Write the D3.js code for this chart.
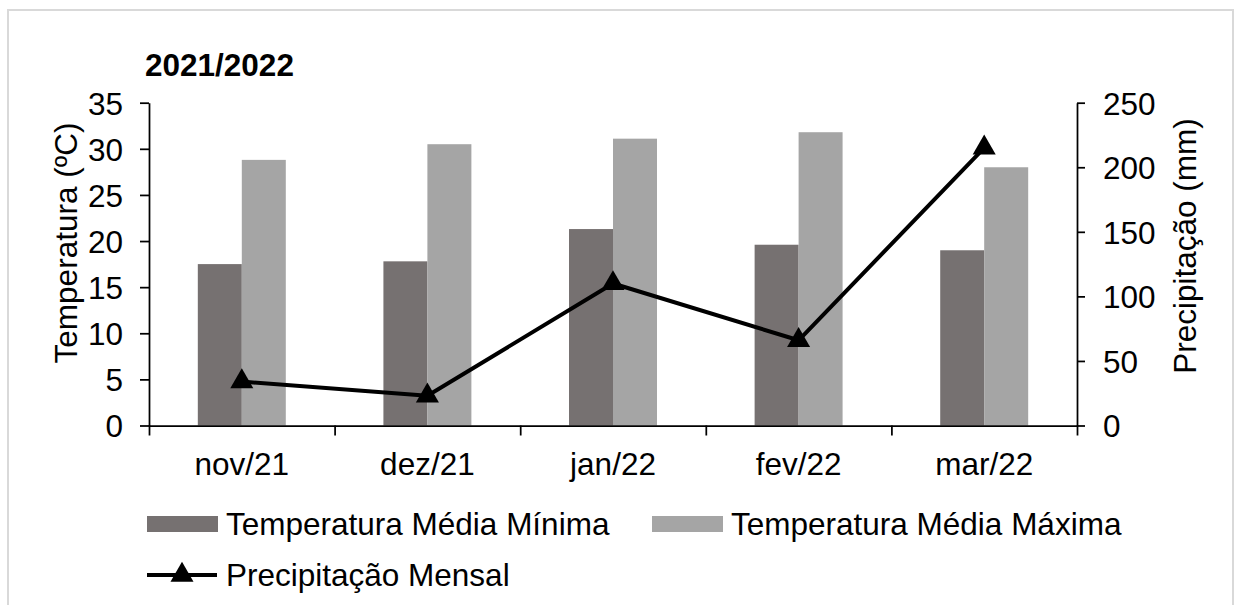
<!DOCTYPE html>
<html>
<head>
<meta charset="utf-8">
<script src="https://cdn.jsdelivr.net/npm/d3@7"></script>
<style>
  html, body { margin: 0; padding: 0; background: #fff; }
  svg { display: block; }
  text { font-family: "Liberation Sans", Arial, sans-serif; fill: #000; }
</style>
</head>
<body>
<svg id="chart" width="1237" height="605"></svg>
<script>
const categories = ["nov/21", "dez/21", "jan/22", "fev/22", "mar/22"];
const tempMin = [17.5, 17.8, 21.3, 19.6, 19.0];
const tempMax = [28.8, 30.5, 31.1, 31.8, 28.0];
const precip = [34, 23, 110, 66, 215];
const tempTicks = [0, 5, 10, 15, 20, 25, 30, 35];
const precipTicks = [0, 50, 100, 150, 200, 250];
const seriesNames = ["Temperatura Média Mínima", "Temperatura Média Máxima", "Precipitação Mensal"];
const colors = { min: "#767171", max: "#a5a5a5", line: "#000000" };

const svg = d3.select("#chart");
const m = { left: 149, right: 1077, top: 102.7, bottom: 425.5 };
const FONT = 31.5;

// outer border
svg.append("rect").attr("x", 8).attr("y", 10).attr("width", 1225).attr("height", 600)
  .attr("fill", "#fff").attr("stroke", "#d9d9d9").attr("stroke-width", 2);

const x = d3.scaleBand().domain(categories).range([m.left, m.right]).paddingInner(0.526).paddingOuter(0.263);
const xs = d3.scaleBand().domain(["min", "max"]).range([0, x.bandwidth()]);
const yL = d3.scaleLinear().domain([0, 35]).range([m.bottom, m.top]);
const yR = d3.scaleLinear().domain([0, 250]).range([m.bottom, m.top]);

// bars
const data = categories.map((c, i) => ({ c, min: tempMin[i], max: tempMax[i], p: precip[i] }));
const g = svg.append("g");
["min", "max"].forEach(k => {
  g.selectAll("rect." + k).data(data).enter().append("rect")
    .attr("class", k)
    .attr("x", d => x(d.c) + xs(k))
    .attr("width", xs.bandwidth())
    .attr("y", d => yL(d[k]))
    .attr("height", d => yL(0) - yL(d[k]))
    .attr("fill", colors[k]);
});

// axes
const axisStyle = sel => {
  sel.selectAll("path.domain").attr("stroke", "#000").attr("stroke-width", 1.75);
  sel.selectAll(".tick line").attr("stroke", "#000").attr("stroke-width", 1.75);
  sel.selectAll("text").style("font-size", FONT + "px").attr("fill", "#000");
};

const axL = svg.append("g").attr("transform", `translate(${m.left},0)`)
  .call(d3.axisLeft(yL).tickValues(tempTicks).tickSize(9).tickSizeOuter(0).tickPadding(17));
axisStyle(axL);
axL.selectAll("text").attr("dy", "0.36em");

const axR = svg.append("g").attr("transform", `translate(${m.right},0)`)
  .call(d3.axisRight(yR).tickValues(precipTicks).tickSize(8).tickSizeOuter(0).tickPadding(18));
axisStyle(axR);
axR.selectAll("text").attr("dy", "0.36em");

// x axis with ticks at category boundaries
const xb = d3.scaleLinear().domain([0, categories.length]).range([m.left, m.right]);
const axB = svg.append("g").attr("transform", `translate(0,${m.bottom})`)
  .call(d3.axisBottom(xb).tickValues(d3.range(categories.length + 1)).tickSize(10).tickSizeOuter(0).tickFormat(""));
axisStyle(axB);
const axB2 = svg.append("g").attr("transform", `translate(0,${m.bottom})`)
  .call(d3.axisBottom(x).tickSize(0).tickPadding(27));
axB2.select("path.domain").remove();
axB2.selectAll("text").style("font-size", FONT + "px").attr("fill", "#000");

// precipitation line
const line = d3.line().x(d => x(d.c) + x.bandwidth() / 2).y(d => yR(d.p));
svg.append("path").datum(data).attr("d", line)
  .attr("fill", "none").attr("stroke", colors.line).attr("stroke-width", 4).attr("stroke-linejoin", "round");
const tri = d3.symbol().type(d3.symbolTriangle).size(230);
svg.selectAll("path.mk").data(data).enter().append("path")
  .attr("class", "mk")
  .attr("d", tri)
  .attr("transform", d => `translate(${x(d.c) + x.bandwidth() / 2},${yR(d.p)})`)
  .attr("fill", "#000");

// title
svg.append("text").attr("x", 145).attr("y", 76).style("font-size", "31.5px").style("font-weight", "bold").text("2021/2022");

// axis titles
svg.append("text").attr("transform", "translate(77,243) rotate(-90)").attr("text-anchor", "middle")
  .style("font-size", FONT + "px").text("Temperatura (ºC)");
svg.append("text").attr("transform", "translate(1196,246) rotate(-90)").attr("text-anchor", "middle")
  .style("font-size", FONT + "px").text("Precipitação (mm)");

// legend
const lg = svg.append("g");
const items = [
  { name: seriesNames[0], type: "rect", color: colors.min, x: 147, y: 524 },
  { name: seriesNames[1], type: "rect", color: colors.max, x: 652, y: 524 },
  { name: seriesNames[2], type: "line", color: colors.line, x: 147, y: 575 }
];
items.forEach(it => {
  if (it.type === "rect") {
    lg.append("rect").attr("x", it.x).attr("y", it.y - 8).attr("width", 71).attr("height", 16).attr("fill", it.color);
  } else {
    lg.append("line").attr("x1", it.x).attr("x2", it.x + 70).attr("y1", it.y).attr("y2", it.y)
      .attr("stroke", it.color).attr("stroke-width", 4);
    lg.append("path").attr("d", tri).attr("transform", `translate(${it.x + 35},${it.y})`).attr("fill", "#000");
  }
  lg.append("text").attr("x", it.x + 79).attr("y", it.y).attr("dy", "0.36em")
    .style("font-size", FONT + "px").text(it.name);
});
</script>
</body>
</html>
